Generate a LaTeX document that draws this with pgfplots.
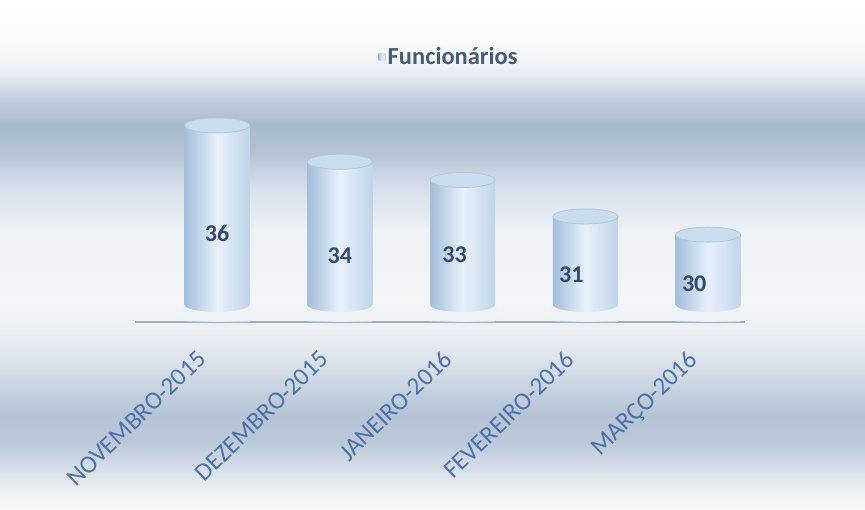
\documentclass[border=0pt]{standalone}
\usepackage{fontspec}
\setmainfont{Carlito}
\usepackage{pgfplots}
\usepackage{pgfplotstable}
\pgfplotsset{compat=1.18}
\definecolor{bgA}{HTML}{F8F9FB}
\definecolor{bgB}{HTML}{EDF0F4}
\definecolor{bgC}{HTML}{BAC7D7}
\definecolor{bgD}{HTML}{B6C4D5}
\definecolor{bgE}{HTML}{D3DCE7}
\definecolor{bgF}{HTML}{EBEEF3}
\definecolor{bgG}{HTML}{F3F5F7}
\definecolor{bgH}{HTML}{EEF1F5}
\definecolor{bgI}{HTML}{D5DEE9}
\definecolor{bgJ}{HTML}{B2C1D3}
\definecolor{bgK}{HTML}{A9B9CD}
\definecolor{bgL}{HTML}{C2CEDC}
\definecolor{bgM}{HTML}{E7ECF2}
\definecolor{bgN}{HTML}{F9FAFB}
\definecolor{bgO}{HTML}{FFFFFF}
\definecolor{cylL}{HTML}{A3BEDB}
\definecolor{cylM}{HTML}{E8F1FA}
\definecolor{cylR}{HTML}{C0D5EA}
\definecolor{cylTop}{HTML}{CADDEE}
\definecolor{cylTopEdge}{HTML}{B0C8E0}
\definecolor{baseBG}{HTML}{EEF1F5}
\definecolor{titlecol}{HTML}{4A5B78}
\definecolor{tickcol}{HTML}{4C72AD}
\definecolor{numcol}{HTML}{34496E}
\definecolor{linecol}{HTML}{A8ACB3}
\definecolor{legsq}{HTML}{C4DAEE}
% stops mapped from 0..510 (picture height) into 25bp..75bp
\pgfdeclareverticalshading{bgshade}{100bp}{%
color(0bp)=(bgA); color(25bp)=(bgA); color(26.96bp)=(bgB); color(31.86bp)=(bgC);
color(34.5bp)=(bgD); color(38.5bp)=(bgE); color(42bp)=(bgF); color(45.59bp)=(bgG);
color(52.45bp)=(bgH); color(56.86bp)=(bgI); color(60.29bp)=(bgJ); color(62.75bp)=(bgK);
color(65.2bp)=(bgL); color(67.65bp)=(bgM); color(70.1bp)=(bgN); color(75bp)=(bgO);
color(100bp)=(bgO)}
\pgfdeclareplotmark{cyltop}{%
  \pgfpathellipse{\pgfpointorigin}{\pgfpoint{32.5pt}{0pt}}{\pgfpoint{0pt}{7.5pt}}%
  \pgfusepathqfillstroke}
\pgfdeclareplotmark{cylbot}{%
  \pgfpathmoveto{\pgfpoint{-34pt}{1pt}}%
  \pgfpathlineto{\pgfpoint{-34pt}{17pt}}%
  \pgfpathlineto{\pgfpoint{-32.5pt}{17pt}}%
  \pgfpatharc{180}{360}{32.5pt and 7pt}%
  \pgfpathlineto{\pgfpoint{34pt}{17pt}}%
  \pgfpathlineto{\pgfpoint{34pt}{1pt}}%
  \pgfpathclose
  \pgfusepathqfill}
\pgfplotstableread{
x y
0 36
1 34
2 33
3 31
4 30
}\datatable
\pgfplotstableread{
x y lab
0 30.09 36
1 28.83 34
1.935 28.88 33
2.886 27.78 31
3.886 27.29 30
}\labtable
\pgfplotsset{cyl/.style={ybar, bar width=65pt, draw=none, left color=cylL, right color=cylR, middle color=cylM}}
\begin{document}
\begin{tikzpicture}[x=1pt,y=1pt]
\useasboundingbox (0,0) rectangle (865,510);
\shade[shading=bgshade] (0,0) rectangle (865,510);
\begin{axis}[
  at={(135pt,188pt)}, anchor=south west,
  scale only axis, width=610pt, height=269.4pt,
  xmin=-0.668, xmax=4.30, ymin=25.2, ymax=40,
  axis x line=bottom, axis y line=none,
  x axis line style={draw=linecol, line width=1.5pt, -},
  xtick={0,1,2,3,4},
  xticklabels={NOVEMBRO-2015,DEZEMBRO-2015,JANEIRO-2016,FEVEREIRO-2016,MARÇO-2016},
  major tick length=0pt,
  xticklabel style={font=\fontsize{25}{25}\selectfont, text=tickcol, inner sep=0pt,
    xshift=-21pt, yshift=-27pt, rotate=44, anchor=north east},
  legend style={at={(0.515,0.985)}, anchor=center, draw=none, fill=none,
    font=\bfseries\fontsize{24.5}{24.5}\selectfont, text=titlecol},
  legend image code/.code={\fill[legsq] (-4pt,-3.5pt) rectangle (3pt,3.5pt);},
]
\addplot[cyl, skip coords between index={1}{5}] table[x=x,y=y]{\datatable};
\addlegendentry{Funcionários}
\addplot[cyl, forget plot, skip coords between index={0}{1}, skip coords between index={2}{5}] table[x=x,y=y]{\datatable};
\addplot[cyl, forget plot, skip coords between index={0}{2}, skip coords between index={3}{5}] table[x=x,y=y]{\datatable};
\addplot[cyl, forget plot, skip coords between index={0}{3}, skip coords between index={4}{5}] table[x=x,y=y]{\datatable};
\addplot[cyl, forget plot, skip coords between index={0}{4}] table[x=x,y=y]{\datatable};
\addplot[only marks, mark=cylbot, mark options={fill=baseBG, draw=none}, forget plot]
  table[x=x,y expr=25.2]{\datatable};
\addplot[only marks, mark=cyltop, mark options={fill=cylTop, draw=cylTopEdge, line width=0.8pt}, forget plot]
  table[x=x,y=y]{\datatable};
\addplot[draw=none, mark=none, forget plot, nodes near coords, point meta=explicit symbolic,
  every node near coord/.style={anchor=center, font=\bfseries\fontsize{24}{24}\selectfont, text=numcol}]
  table[x=x,y=y,meta=lab]{\labtable};
\end{axis}
\end{tikzpicture}
\end{document}
